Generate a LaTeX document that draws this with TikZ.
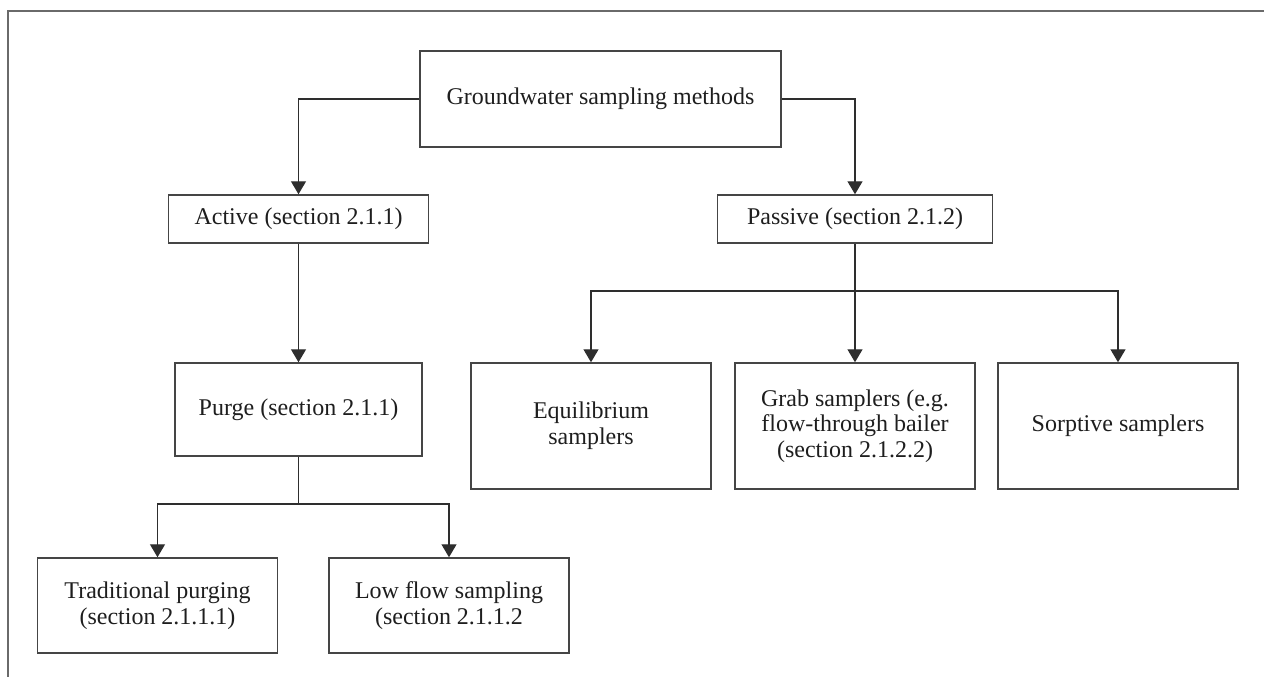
\documentclass[tikz,border=0pt]{standalone}
\usepackage{fontspec}
\setmainfont{Liberation Serif}
\usetikzlibrary{arrows.meta}
\definecolor{framegray}{HTML}{6A6A6A}
\definecolor{boxgray}{HTML}{454545}
\definecolor{linegray}{HTML}{2E2E2E}
\definecolor{textgray}{HTML}{1E1E1E}
\tikzset{
  box/.style={draw=boxgray, line width=0.75pt, rectangle, inner sep=0pt, align=center,
    text=textgray, font=\fontsize{12}{12.8}\selectfont},
  conn/.style={draw=linegray, line width=0.7pt},
  arr/.style={conn, -{Triangle[length=6.5pt,width=7.5pt]}},
  framel/.style={draw=framegray, line width=1pt}
}
\begin{document}
\begin{tikzpicture}[x=0.5pt,y=-0.5pt]
\useasboundingbox (0,0) rectangle (1264,677);
% frame (top and left only)
\coordinate (f1) at (1264,11);
\coordinate (f2) at (8,11);
\coordinate (f3) at (8,677);
\draw[framel] (f1) -- (f2) -- (f3);

\node[box, minimum width=180.5pt, minimum height=48pt] (gw) at (600.5,99) {Groundwater sampling methods};
\node[box, minimum width=130pt, minimum height=24pt] (act) at (298.5,219) {Active (section 2.1.1)};
\node[box, minimum width=137.5pt, minimum height=24pt] (pas) at (855,219) {Passive (section 2.1.2)};
\node[box, minimum width=123.5pt, minimum height=46.5pt] (purge) at (298.5,409.5) {Purge (section 2.1.1)};
\node[box, minimum width=120pt, minimum height=63pt] (equ) at (591,426) {Equilibrium\\samplers};
\node[box, minimum width=120pt, minimum height=63pt] (grab) at (855,426) {Grab samplers (e.g.\\flow-through bailer\\(section 2.1.2.2)};
\node[box, minimum width=120pt, minimum height=63pt] (sorp) at (1118,426) {Sorptive samplers};
\node[box, minimum width=120pt, minimum height=47.5pt] (trad) at (157.5,605.5) {Traditional purging\\(section 2.1.1.1)};
\node[box, minimum width=120pt, minimum height=47.5pt] (low) at (449,605.5) {Low flow sampling\\(section 2.1.1.2};

\draw[arr] (gw.west) -| (act.north);
\draw[arr] (gw.east) -| (pas.north);
\draw[arr] (act.south) -- (purge.north);

\coordinate (pj) at (298.5,504);
\draw[conn] (purge.south) -- (pj);
\draw[arr] (pj) -| (trad.north);
\draw[arr] (pj) -| (low.north);

\coordinate (qj) at (855,291);
\draw[arr] (pas.south) -- (grab.north);
\draw[arr] (qj) -| (equ.north);
\draw[arr] (qj) -| (sorp.north);
\end{tikzpicture}
\end{document}
